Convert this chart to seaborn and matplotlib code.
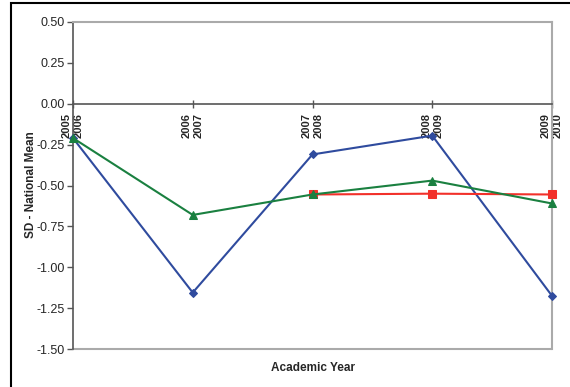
import numpy as np
import pandas as pd
import matplotlib
matplotlib.use("Agg")
import matplotlib.pyplot as plt
import seaborn as sns
from matplotlib.patches import Rectangle
from matplotlib.ticker import FormatStrFormatter

years = ["2005\n2006", "2006\n2007", "2007\n2008", "2008\n2009", "2009\n2010"]
series_a = [-0.21, -1.155, -0.31, -0.195, -1.175]
series_b = [np.nan, np.nan, -0.555, -0.55, -0.555]
series_c = [-0.21, -0.68, -0.555, -0.47, -0.61]
y_ticks = [-1.50, -1.25, -1.00, -0.75, -0.50, -0.25, 0.00, 0.25, 0.50]

rows = []
for name, vals in [("A", series_a), ("B", series_b), ("C", series_c)]:
    for i, v in enumerate(vals):
        rows.append({"idx": i, "value": v, "series": name})
df = pd.DataFrame(rows)

sns.set_style("white")
plt.rcParams["font.family"] = ["Liberation Sans", "DejaVu Sans"]

fig = plt.figure(figsize=(5.70, 3.87), dpi=100)
ax = fig.add_axes([73 / 570, 1 - 349 / 387, (552 - 73) / 570, (349 - 22) / 387])

palette = {"A": "#2F4B9E", "B": "#F2302A", "C": "#1A8040"}
markers = {"A": "D", "B": "s", "C": "^"}
sizes = {"A": 4.5, "B": 5.5, "C": 6}
for name in ["A", "B", "C"]:
    sub = df[df["series"] == name]
    sns.lineplot(data=sub, x="idx", y="value", ax=ax, color=palette[name],
                 marker=markers[name], markersize=sizes[name],
                 markeredgecolor=palette[name], linewidth=1.5,
                 clip_on=False, legend=False, zorder=3)

# x axis sits on the zero line
ax.spines["bottom"].set_position(("data", 0))
ax.spines["bottom"].set_color("#555555")
ax.spines["bottom"].set_linewidth(1.2)
ax.spines["left"].set_color("#555555")
ax.spines["left"].set_linewidth(1.2)
ax.spines["top"].set_color("#AAAAAA")
ax.spines["right"].set_color("#AAAAAA")
ax.spines["top"].set_linewidth(1.5)
ax.spines["right"].set_linewidth(1.5)
ax.axhline(-1.5, color="#AAAAAA", linewidth=1.5, zorder=1, clip_on=False)

ax.set_xlim(0, 4)
ax.set_ylim(-1.5, 0.5)
ax.set_yticks(y_ticks)
ax.yaxis.set_major_formatter(FormatStrFormatter("%.2f"))
ax.set_xticks(range(len(years)))
ax.set_xticklabels(years, rotation=90, fontsize=8, fontweight="bold",
                   va="top", ha="center", linespacing=1.25)

ax.tick_params(axis="y", direction="out", length=4, width=1, color="#555555",
               labelsize=9, pad=2, left=True)
ax.tick_params(axis="x", direction="inout", length=6, width=1, color="#555555",
               pad=4, bottom=True)

ax.set_xlabel("")
ax.set_ylabel("")
fig.text(31 / 570, 1 - 185 / 387, "SD - National Mean", rotation=90,
         fontsize=8.5, fontweight="bold", ha="center", va="center")
fig.text(313 / 570, 1 - 368 / 387, "Academic Year", fontsize=8.5,
         fontweight="bold", ha="center", va="center")

# outer frame
fig.patches.append(Rectangle((11 / 570, -0.05), 1.2, 1 - 3 / 387 + 0.05,
                             transform=fig.transFigure, fill=False,
                             edgecolor="black", linewidth=1.5))

fig.savefig("out.png", dpi=100)
